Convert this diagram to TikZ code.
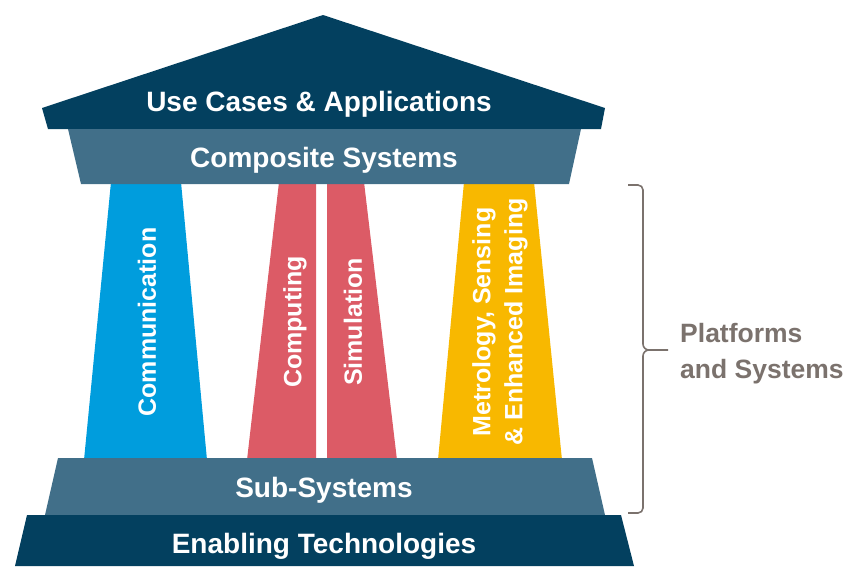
\documentclass[tikz,border=0pt]{standalone}
\usepackage{fontspec}
\setmainfont{Liberation Sans}
\usetikzlibrary{positioning, calc}
\definecolor{roofnavy}{HTML}{03405F}
\definecolor{bandslate}{HTML}{416F89}
\definecolor{pillarblue}{HTML}{009DDD}
\definecolor{pillarred}{HTML}{DC5B66}
\definecolor{pillaryellow}{HTML}{F8B800}
\definecolor{bracegray}{HTML}{7B726D}

\begin{document}
\begin{tikzpicture}[x=1pt, y=-1pt,
    bandlabel/.style={font=\fontsize{28}{32}\selectfont\bfseries, text=white, inner sep=0pt},
    pillarlabel/.style={font=\fontsize{25}{32}\selectfont\bfseries, text=white, rotate=90, align=center, inner sep=0pt},
    sidelabel/.style={font=\fontsize{26.5}{36}\selectfont\bfseries, text=bracegray, align=left, inner sep=0pt},
    brace/.style={bracegray, line width=1.6pt}
]

% Fix the page to the reference size
\useasboundingbox (0,0) rectangle (865,566);

% Pillars - drawn first so the bands cover their ends
\fill[pillarblue] (111,182) -- (181,182) -- (207,460) -- (84,460) -- cycle;
\fill[pillarred] (279,182) -- (316,182) -- (316,460) -- (247,460) -- cycle;
\fill[pillarred] (327,182) -- (364,182) -- (397,460) -- (327,460) -- cycle;
\fill[pillaryellow] (464,182) -- (534,182) -- (562,460) -- (438,460) -- cycle;

% Roof
\fill[roofnavy] (42,108) -- (323,15) -- (605,108) -- (601,129) -- (48,129) -- cycle;
\node[bandlabel] (usecases) at (319,104) {Use Cases \& Applications};

% Composite band under the roof
\fill[bandslate] (68,129) -- (581,129) -- (569,184) -- (81,184) -- cycle;
\node[bandlabel] (composite) at (324,160) {Composite Systems};

% Pillar texts
\node[pillarlabel] (comm) at (147,322) {Communication};
\node[pillarlabel] (comp) at (295,322) {Computing};
\node[pillarlabel] (simu) at (353,322) {Simulation};
\node[pillarlabel] (metro) at (500,322) {Metrology, Sensing\\\& Enhanced Imaging};

% Sub-Systems step
\fill[bandslate] (58,458) -- (592,458) -- (605,515) -- (45,515) -- cycle;
\node[bandlabel] (subsys) at (324,490) {Sub-Systems};

% Enabling Technologies base
\fill[roofnavy] (27,515) -- (621,515) -- (634,566) -- (15,566) -- cycle;
\node[bandlabel] (enabling) at (324,546) {Enabling Technologies};

% Brace round the pillars and sub-systems
\coordinate (bracetip) at (668,350);
\draw[brace] (628,185) -- (638,185) to[out=0, in=90] (643,190) -- (643,344)
    to[out=-90, in=180] (649,350) -- (bracetip);
\draw[brace] (649,350) to[out=180, in=90] (643,356) -- (643,508)
    to[out=-90, in=0] (638,513) -- (628,513);
\node[sidelabel, anchor=west] (platforms) at ([xshift=12pt, yshift=-4pt]bracetip) {Platforms\\and Systems};

\end{tikzpicture}
\end{document}
